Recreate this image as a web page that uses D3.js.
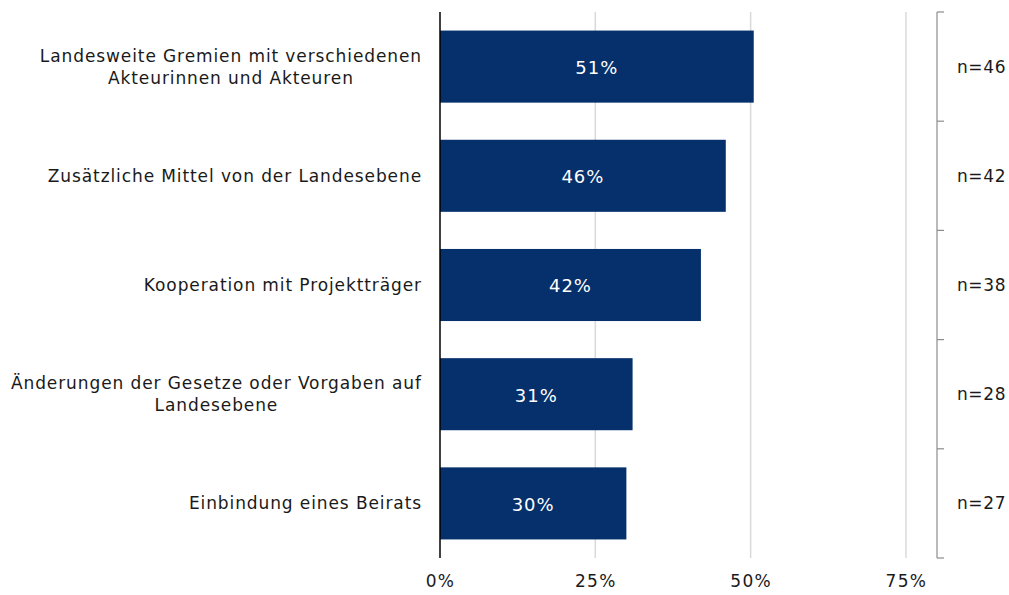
<!DOCTYPE html>
<html>
<head>
<meta charset="utf-8">
<script src="https://cdn.jsdelivr.net/npm/d3@7"></script>
<style>
  html, body { margin: 0; padding: 0; background: #fff; }
  svg { display: block; font-family: "DejaVu Sans", Verdana, sans-serif; }
</style>
</head>
<body>
<svg id="chart" width="1009" height="595"></svg>
<script>
// Categories (each entry is a list of label lines)
const categories = [
  ["Landesweite Gremien mit verschiedenen", "Akteurinnen und Akteuren"],
  ["Zusätzliche Mittel von der Landesebene"],
  ["Kooperation mit Projektträger"],
  ["Änderungen der Gesetze oder Vorgaben auf", "Landesebene"],
  ["Einbindung eines Beirats"]
];
const shares = [0.505, 0.46, 0.42, 0.31, 0.30];
const valueLabels = ["51%", "46%", "42%", "31%", "30%"];
const counts = [46, 42, 38, 28, 27];
const tickValues = [0, 0.25, 0.5, 0.75];

const svg = d3.select("#chart");
const plotLeft = 440, plotRight = 937, plotTop = 12, plotBottom = 558;
const textColor = "#1a1a1a";

const x = d3.scaleLinear().domain([0, 0.8]).range([plotLeft, plotRight]);
const y = d3.scaleBand().domain(d3.range(categories.length))
  .range([plotTop, plotBottom]).paddingInner(0.34).paddingOuter(0.17);

// vertical gridlines
svg.append("g").selectAll("line").data(tickValues.slice(1)).join("line")
  .attr("x1", d => x(d)).attr("x2", d => x(d))
  .attr("y1", plotTop).attr("y2", plotBottom)
  .attr("stroke", "#d9d9d9").attr("stroke-width", 1.5);

// bars
svg.append("g").selectAll("rect").data(shares).join("rect")
  .attr("x", x(0)).attr("y", (d, i) => y(i))
  .attr("width", d => x(d) - x(0)).attr("height", y.bandwidth())
  .attr("fill", "#05306b");

// value labels inside bars
svg.append("g").selectAll("text").data(shares).join("text")
  .attr("x", d => (x(0) + x(d)) / 2)
  .attr("y", (d, i) => y(i) + y.bandwidth() / 2 + 1)
  .attr("dy", "0.35em").attr("text-anchor", "middle")
  .attr("fill", "#fff").attr("font-size", 18).attr("letter-spacing", 1)
  .text((d, i) => valueLabels[i]);

// zero axis line
svg.append("line")
  .attr("x1", x(0)).attr("x2", x(0)).attr("y1", plotTop).attr("y2", plotBottom)
  .attr("stroke", "#000").attr("stroke-width", 1.5);

// x tick labels
const xAxis = d3.axisBottom(x).tickValues(tickValues)
  .tickFormat(d3.format(".0%")).tickSize(0).tickPadding(0);
const gx = svg.append("g").attr("transform", `translate(0,${plotBottom + 17})`).call(xAxis);
gx.select(".domain").remove();
gx.selectAll("text").attr("font-size", 17).attr("letter-spacing", 1.3)
  .attr("fill", textColor)
  .attr("font-family", "DejaVu Sans, Verdana, sans-serif");

// category labels
const lineH = 22;
const cat = svg.append("g").selectAll("text").data(categories).join("text")
  .attr("text-anchor", "middle").attr("font-size", 17).attr("letter-spacing", 0.9)
  .attr("fill", textColor);
cat.each(function (lines, i) {
  const cy = y(i) + y.bandwidth() / 2;
  const t = d3.select(this);
  lines.forEach((ln, k) => {
    t.append("tspan")
      .attr("x", 0)
      .attr("y", cy + (k - (lines.length - 1) / 2) * lineH)
      .attr("dy", "0.35em")
      .text(ln);
  });
});
// right-align the block while centering each line within it
cat.each(function () {
  const b = this.getBBox();
  d3.select(this).attr("transform", `translate(${422 - b.x - b.width},0)`);
});

// n bracket on the right
const bx = plotRight;
const br = svg.append("g").attr("stroke", "#8c8c8c").attr("stroke-width", 1.2);
br.append("line").attr("x1", bx).attr("x2", bx).attr("y1", plotTop).attr("y2", plotBottom);
const edges = d3.range(categories.length + 1).map(i => plotTop + i * y.step());
br.selectAll(".tk").data(edges).join("line")
  .attr("x1", bx).attr("x2", bx + 7).attr("y1", d => d).attr("y2", d => d);

svg.append("g").selectAll("text").data(counts).join("text")
  .attr("x", 957).attr("y", (d, i) => y(i) + y.bandwidth() / 2)
  .attr("dy", "0.35em").attr("font-size", 17).attr("letter-spacing", 0.6)
  .attr("fill", textColor)
  .text(d => "n=" + d);
</script>
</body>
</html>
